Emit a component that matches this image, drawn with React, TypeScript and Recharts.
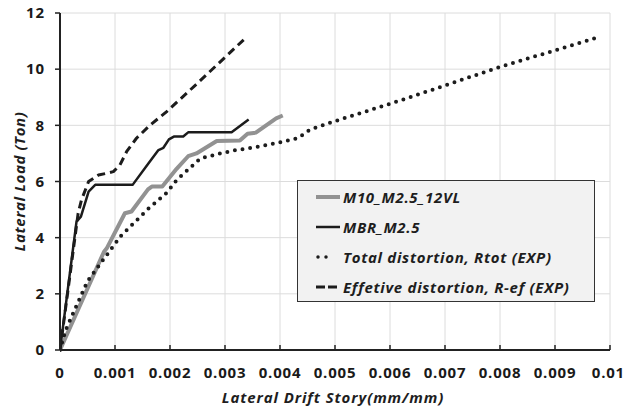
import React from 'react';
import { LineChart, Line, XAxis, YAxis, CartesianGrid, Legend, Label } from 'recharts';

const xTicks = [0, 0.001, 0.002, 0.003, 0.004, 0.005, 0.006, 0.007, 0.008, 0.009, 0.01];
const xTickLabels = ['0', '0.001', '0.002', '0.003', '0.004', '0.005', '0.006', '0.007', '0.008', '0.009', '0.01'];
const yTicks = [0, 2, 4, 6, 8, 10, 12];

const seriesNames = [
  'M10_M2.5_12VL',
  'MBR_M2.5',
  'Total distortion, Rtot (EXP)',
  'Effetive distortion, R-ef (EXP)',
];

// M10_M2.5_12VL (gray)
const m10X = [0, 0.0008, 0.00085, 0.00118, 0.0013, 0.0016, 0.00167, 0.00186, 0.00212, 0.00233, 0.00248, 0.00285, 0.00327, 0.00341, 0.00356, 0.00393, 0.00405];
const m10Y = [0, 3.5, 3.62, 4.87, 4.93, 5.72, 5.82, 5.82, 6.45, 6.9, 7.0, 7.44, 7.46, 7.7, 7.74, 8.25, 8.35];

// MBR_M2.5 (black solid)
const mbrX = [0, 0.0003, 0.00038, 0.00052, 0.00064, 0.00132, 0.00161, 0.00179, 0.00188, 0.00198, 0.00207, 0.00224, 0.00233, 0.00312, 0.00343];
const mbrY = [0, 4.57, 4.75, 5.64, 5.88, 5.88, 6.65, 7.12, 7.2, 7.5, 7.6, 7.6, 7.75, 7.75, 8.21];

// Total distortion, Rtot (EXP) (dotted)
const totX = [0, 0.0001, 0.0005, 0.0011, 0.0016, 0.00194, 0.00212, 0.00255, 0.00285, 0.00315, 0.00364, 0.00405, 0.00433, 0.00455, 0.00497, 0.00618, 0.008, 0.00973];
const totY = [0, 0.7, 2.45, 4.05, 5.02, 5.6, 6.05, 6.82, 6.97, 7.1, 7.25, 7.42, 7.55, 7.85, 8.13, 8.88, 10.08, 11.1];

// Effetive distortion, R-ef (EXP) (dashed)
const effX = [0, 0.00015, 0.00033, 0.00039, 0.00052, 0.0007, 0.00087, 0.00097, 0.00109, 0.00121, 0.00139, 0.00164, 0.00194, 0.0025, 0.00339];
const effY = [0, 2.2, 4.87, 5.34, 6.0, 6.23, 6.3, 6.35, 6.59, 7.06, 7.54, 8.01, 8.49, 9.5, 11.14];

const toPoints = (xs: number[], ys: number[]) => xs.map((x, i) => ({ x, y: ys[i] }));

const FONT = '"Open Sans", Lato, sans-serif';

const styles = [
  { stroke: '#929292', strokeWidth: 4, dash: undefined as string | undefined, cap: 'butt' },
  { stroke: '#1c1c1c', strokeWidth: 2.5, dash: undefined as string | undefined, cap: 'butt' },
  { stroke: '#1c1c1c', strokeWidth: 4, dash: '0 7.7', cap: 'round' },
  { stroke: '#1c1c1c', strokeWidth: 3, dash: '8 5', cap: 'butt' },
];

const XTick = (props: any) => {
  const { x, y, index } = props;
  const last = index === xTickLabels.length - 1;
  return (
    <g>
      <line x1={x} x2={x} y1={y - 23} y2={y - 28} stroke="#222" strokeWidth={1.5} />
      <text
        x={last ? x + 15 : x}
        y={y}
        dy="0.35em"
        textAnchor={last ? 'end' : 'middle'}
        fontFamily={FONT}
        fontWeight={700}
        fontSize={15}
        letterSpacing={0.8}
        fill="#1a1a1a"
      >
        {xTickLabels[index]}
      </text>
    </g>
  );
};

const LegendSample = ({ i }: { i: number }) => {
  const s = styles[i];
  return (
    <svg width={26} height={10} style={{ display: 'block' }}>
      <line
        x1={i === 2 ? 2 : 0}
        x2={i === 2 ? 18 : i === 3 ? 21 : 24}
        y1={5}
        y2={5}
        stroke={s.stroke}
        strokeWidth={i === 2 ? 3.5 : s.strokeWidth}
        strokeDasharray={i === 2 ? '0 8' : i === 3 ? '9 3' : undefined}
        strokeLinecap={s.cap as any}
      />
    </svg>
  );
};

const renderLegend = () => (
  <div
    style={{
      width: 298,
      height: 122,
      boxSizing: 'border-box',
      border: '1.5px solid #333',
      background: '#f2f2f2',
      paddingTop: 1,
    }}
  >
    {seriesNames.map((n, i) => (
      <div key={n} style={{ height: 30, display: 'flex', alignItems: 'center', paddingLeft: 18 }}>
        <LegendSample i={i} />
        <span
          style={{
            fontFamily: FONT,
            fontWeight: 700,
            fontStyle: 'italic',
            fontSize: 15,
            letterSpacing: 0.7,
            color: '#1e1e1e',
            marginLeft: 1,
            whiteSpace: 'nowrap',
          }}
        >
          {n}
        </span>
      </div>
    ))}
  </div>
);

export default function App() {
  const data = [toPoints(m10X, m10Y), toPoints(mbrX, mbrY), toPoints(totX, totY), toPoints(effX, effY)];
  return (
    <div style={{ position: 'fixed', left: 0, top: 0, width: 626, height: 411, background: '#fff' }}>
      <LineChart width={626} height={411} margin={{ top: 13, right: 16, bottom: 0, left: 0 }}>
        <CartesianGrid stroke="#dcdcdc" strokeWidth={1} />
        <XAxis
          type="number"
          dataKey="x"
          domain={[0, 0.01]}
          ticks={xTicks}
          interval={0}
          height={61}
          tickSize={0}
          tickMargin={23}
          tickLine={false}
          tick={<XTick />}
          axisLine={{ stroke: '#222', strokeWidth: 2 }}
          allowDataOverflow
        >
          <Label
            content={(p: any) => {
              const vb = p.viewBox || {};
              return (
                <text
                  x={vb.x + vb.width / 2 - 2}
                  y={vb.y + 47}
                  textAnchor="middle"
                  dominantBaseline="central"
                  fontFamily={FONT}
                  fontWeight={700}
                  fontStyle="italic"
                  fontSize={15}
                  letterSpacing={0.9}
                  fill="#1e1e1e"
                >
                  Lateral Drift Story(mm/mm)
                </text>
              );
            }}
          />
        </XAxis>
        <XAxis xAxisId="top" orientation="top" type="number" domain={[0, 0.01]} height={0} tick={false} tickLine={false} axisLine={{ stroke: '#222', strokeWidth: 2 }} />
        <YAxis
          type="number"
          domain={[0, 12]}
          ticks={yTicks}
          interval={0}
          width={60}
          tickSize={5}
          tickMargin={10}
          tickLine={{ stroke: '#222', strokeWidth: 1.5 }}
          axisLine={{ stroke: '#222', strokeWidth: 2 }}
          tick={{ fontFamily: FONT, fontWeight: 700, fontSize: 15, fill: '#1a1a1a', letterSpacing: 0.9 }}
        >
          <Label
            content={(p: any) => {
              const vb = p.viewBox || {};
              const cx = vb.x + 19;
              const cy = vb.y + vb.height / 2;
              return (
                <text
                  transform={`translate(${cx},${cy}) rotate(-90)`}
                  textAnchor="middle"
                  dominantBaseline="central"
                  fontFamily={FONT}
                  fontWeight={700}
                  fontStyle="italic"
                  fontSize={15}
                  letterSpacing={0.6}
                  fill="#1e1e1e"
                >
                  Lateral Load (Ton)
                </text>
              );
            }}
          />
        </YAxis>
        <YAxis yAxisId="right" orientation="right" type="number" domain={[0, 12]} width={0} tick={false} tickLine={false} axisLine={{ stroke: '#222', strokeWidth: 2 }} />
        <Legend
          layout="horizontal"
          verticalAlign="middle"
          align="center"
          content={renderLegend}
          wrapperStyle={{ position: 'absolute', left: 297, top: 180, width: 298, height: 122 }}
        />
        {data.map((d, i) => (
          <Line
            key={seriesNames[i]}
            data={d}
            dataKey="y"
            name={seriesNames[i]}
            type="linear"
            stroke={styles[i].stroke}
            strokeWidth={styles[i].strokeWidth}
            strokeDasharray={styles[i].dash}
            strokeLinecap={styles[i].cap as any}
            strokeLinejoin="round"
            dot={false}
            activeDot={false}
            isAnimationActive={false}
          />
        ))}
      </LineChart>
    </div>
  );
}
